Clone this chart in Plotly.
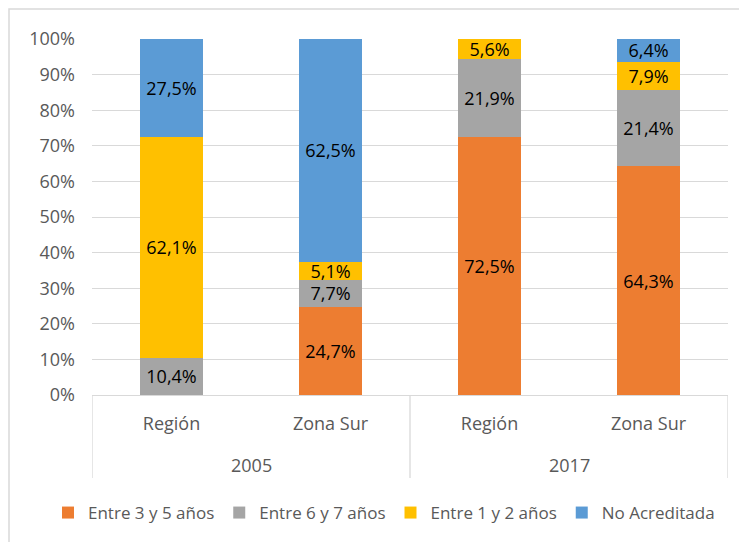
import plotly.graph_objects as go

years = ["2005", "2005", "2017", "2017"]
zones = ["Región", "Zona Sur", "Región", "Zona Sur"]

series_names = ["Entre 3 y 5 años", "Entre 6 y 7 años", "Entre 1 y 2 años", "No Acreditada"]
entre_3_5 = [0.0, 24.7, 72.5, 64.3]
entre_6_7 = [10.4, 7.7, 21.9, 21.4]
entre_1_2 = [62.1, 5.1, 5.6, 7.9]
no_acreditada = [27.5, 62.5, 0.0, 6.4]

colors = ["#ED7D31", "#A5A5A5", "#FFC000", "#5B9BD5"]
y_ticks = [0, 10, 20, 30, 40, 50, 60, 70, 80, 90, 100]
y_ticklabels = [f"{v}%" for v in y_ticks]

font_family = "Open Sans, Liberation Sans, Arial"
FS = 18
GRID = "#D9D9D9"

keys = [f"{y} {z}" for y, z in zip(years, zones)]

W, H = 747, 542
L, R, T, B = 84, 27, 31, 155   # page has an 8px body margin
plot_w = W - L - R
plot_h = H - T - B

fig = go.Figure()
for name, vals, col in zip(series_names, [entre_3_5, entre_6_7, entre_1_2, no_acreditada], colors):
    txt = [("%.1f%%" % v).replace(".", ",") if v > 0 else "" for v in vals]
    fig.add_trace(go.Bar(
        x=keys, y=vals, name=name,
        marker=dict(color=col, line=dict(width=0)),
        text=txt, textposition="inside", insidetextanchor="middle",
        textangle=0, texttemplate="%{text}",
        textfont=dict(color="#000000", size=FS, family=font_family),
        hoverinfo="skip",
    ))

# group boundaries and year labels
shapes = []
annotations = []
unique_years = []
for y in years:
    if y not in unique_years:
        unique_years.append(y)
boundaries = [-0.5]
for uy in unique_years:
    idx = [i for i, y in enumerate(years) if y == uy]
    boundaries.append(idx[-1] + 0.5)
    annotations.append(dict(x=sum(idx) / len(idx), xref="x", y=-(465 - 395) / plot_h, yref="paper",
                            text=uy, showarrow=False, yanchor="middle",
                            font=dict(size=FS, color="#595959", family=font_family)))
for bx in boundaries:
    shapes.append(dict(type="line", xref="x", yref="paper", x0=bx, x1=bx, y0=0,
                       y1=-(478 - 395) / plot_h, line=dict(color=GRID, width=1.3)))

# outer chart frame
shapes.append(dict(type="rect", xref="paper", yref="paper",
                   x0=(1 - L) / plot_w, x1=(W + 20 - L) / plot_w,
                   y0=-1.0, y1=1 + (T - 1) / plot_h,
                   line=dict(color=GRID, width=1.5), layer="below"))

fig.update_layout(
    barmode="stack",
    bargap=0.6,
    width=W, height=H,
    margin=dict(l=L, r=R, t=T, b=B),
    paper_bgcolor="white", plot_bgcolor="white",
    font=dict(family=font_family, color="#595959", size=FS),
    uniformtext=dict(minsize=FS, mode="show"),
    legend=dict(orientation="h", x=(48 - 8 - L) / plot_w, xanchor="left", xref="paper",
                y=-(513 - 395) / plot_h, yref="paper", yanchor="middle",
                font=dict(size=17, color="#595959", family=font_family),
                traceorder="normal", itemwidth=30),
    shapes=shapes,
    annotations=annotations,
)
fig.update_yaxes(range=[0, 100], tickvals=y_ticks, ticktext=y_ticklabels,
                 showgrid=True, gridcolor=GRID, gridwidth=1.3,
                 zeroline=False, showline=False, ticks="", ticklabelstandoff=16,
                 tickfont=dict(size=FS, color="#595959"))
fig.update_xaxes(type="category", tickvals=keys, ticktext=zones,
                 showline=True, linecolor=GRID, linewidth=1.3, showgrid=False,
                 ticks="", ticklabelstandoff=12, range=[-0.5, len(keys) - 0.5],
                 tickfont=dict(size=FS, color="#595959"))

fig.write_html("out.html")
